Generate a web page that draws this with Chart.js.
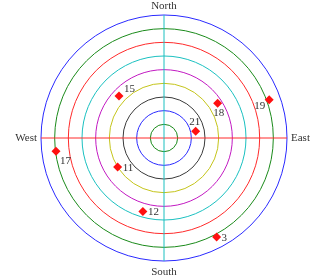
<!DOCTYPE html>
<html>
<head>
<meta charset="utf-8">
<script src="https://cdn.jsdelivr.net/npm/chart.js@4.4.1/dist/chart.umd.min.js"></script>
<style>
  body { margin: 0; background: #fff; }
  #polarChart { display: block; }
</style>
</head>
<body>
<canvas id="polarChart" width="314" height="276"></canvas>
<script>
// Point data: names, compass bearing (degrees) and radius (ring units)
const pointNames = ['15', '18', '19', '21', '17', '11', '12', '3'];
const pointBearings = [313, 57, 70, 78, 263, 238, 196, 152];
const pointRadii = [4.5, 4.68, 8.19, 2.37, 7.96, 4.0, 5.6, 8.2];

// Where each label sits relative to its marker
const labelSides = ['ne', 's', 'sw', 'n', 'se', 'e', 'e', 'e'];

// Ring colours, from the innermost ring outwards
const ringColors = ['#1a8a1a', '#2a2aff', '#3a3a3a', '#c4c41a', '#c21ac2', '#1ac0c0', '#ff2a2a', '#1a8a1a', '#2a2aff'];

// Cardinal directions at bearing 0, 90, 180, 270
const directionNames = ['North', 'East', 'South', 'West'];

const serifFont = '"Liberation Serif", "DejaVu Serif", serif';

// one radar label per degree, so points can sit at any bearing
const angleLabels = [];
for (let i = 0; i < 360; i++) angleLabels.push(i);

const pointData = angleLabels.map(() => null);
const nameAtIndex = {};
pointBearings.forEach((b, i) => {
    pointData[b] = pointRadii[i];
    nameAtIndex[b] = i;
});

const sideOffsets = {
    n: [-1, -9, 'center', 'middle'],
    s: [1, 10, 'center', 'middle'],
    e: [5, 1, 'left', 'middle'],
    ne: [5, -7, 'left', 'middle'],
    se: [4, 10, 'left', 'middle'],
    sw: [-4, 6, 'right', 'middle']
};

// Draws the point names and the four direction names
const textPlugin = {
    id: 'textPlugin',
    afterDatasetsDraw(chart) {
        const ctx = chart.ctx;
        const scale = chart.scales.r;
        const meta = chart.getDatasetMeta(0);
        ctx.save();
        ctx.fillStyle = '#333';
        ctx.font = '11px ' + serifFont;

        meta.data.forEach((el, idx) => {
            const i = nameAtIndex[idx];
            if (i === undefined) return;
            const off = sideOffsets[labelSides[i]];
            ctx.textAlign = off[2];
            ctx.textBaseline = off[3];
            ctx.fillText(pointNames[i], el.x + off[0], el.y + off[1]);
        });

        const r = scale.drawingArea;
        const spots = [
            [0, r + 9, 'center'],
            [90, r + 4, 'left'],
            [180, r + 11, 'center'],
            [270, r + 4, 'right']
        ];
        spots.forEach((s, i) => {
            const p = scale.getPointPosition(s[0], s[1]);
            ctx.textAlign = s[2];
            ctx.textBaseline = 'middle';
            ctx.fillText(directionNames[i], p.x, p.y);
        });
        ctx.restore();
    }
};

const chart = new Chart(document.getElementById('polarChart').getContext('2d'), {
    type: 'radar',
    data: {
        labels: angleLabels,
        datasets: [{
            data: pointData,
            showLine: false,
            pointStyle: 'rectRot',
            pointRadius: 4.5,
            pointBackgroundColor: '#ff1010',
            pointBorderColor: '#ff1010',
            pointBorderWidth: 0
        }]
    },
    options: {
        responsive: false,
        animation: false,
        events: [],
        layout: { padding: { left: 41, right: 27, top: 15, bottom: 15 } },
        plugins: {
            legend: { display: false },
            tooltip: { enabled: false }
        },
        scales: {
            r: {
                min: 0,
                max: 9,
                ticks: { display: false, stepSize: 1 },
                pointLabels: { display: false },
                grid: {
                    circular: true,
                    lineWidth: 1,
                    color: ctx => ringColors[ctx.index - 1]
                },
                angleLines: {
                    lineWidth: 1,
                    color: ctx => {
                        if (ctx.index % 180 === 0) return '#1ac0c0';
                        if (ctx.index % 90 === 0) return '#ff2a2a';
                        return null;
                    }
                }
            }
        }
    },
    plugins: [textPlugin]
});
</script>
</body>
</html>
